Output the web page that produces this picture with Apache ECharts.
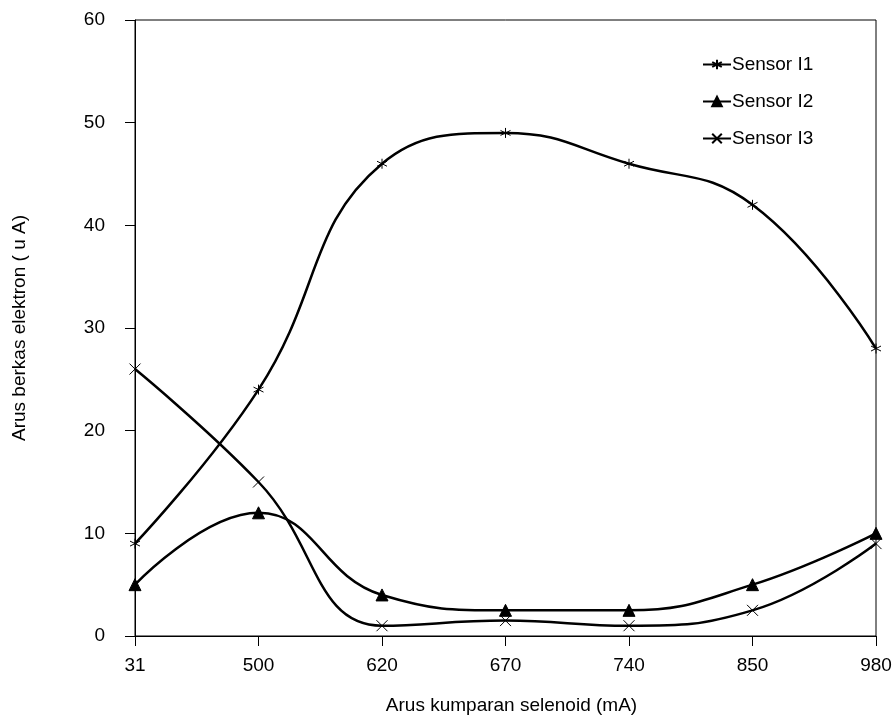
<!DOCTYPE html>
<html>
<head>
<meta charset="utf-8">
<script src="https://cdn.jsdelivr.net/npm/echarts@6/dist/echarts.min.js"></script>
<style>
  html, body { margin: 0; padding: 0; background: #fff; }
  #chart { width: 896px; height: 724px; }
</style>
</head>
<body>
<div id="chart"></div>
<script>
// values
var categories = ['31', '500', '620', '670', '740', '850', '980'];
var sensorI1 = [9, 24, 46, 49, 46, 42, 28];
var sensorI2 = [5, 12, 4, 2.5, 2.5, 5, 10];
var sensorI3 = [26, 15, 1, 1.5, 1, 2.5, 9];

var starPath = 'path://M0,-10L0,10M-8.7,-5L8.7,5M-8.7,5L8.7,-5';
var crossPath = 'path://M-10,-10L10,10M-10,10L10,-10';

var font = 'Liberation Sans, Arial, sans-serif';

var chart = echarts.init(document.getElementById('chart'));

function lineSeries(name, data, symbol, size) {
    return {
        name: name,
        type: 'line',
        data: data,
        smooth: 0.45,
        symbol: symbol,
        symbolSize: size,
        lineStyle: { color: '#000', width: 2.5 },
        itemStyle: { color: '#000', borderColor: '#000', borderWidth: 1 },
        emphasis: { disabled: true },
        animation: false
    };
}

chart.setOption({
    backgroundColor: '#fff',
    textStyle: { fontFamily: font },
    grid: {
        left: 135, right: 20, top: 20, bottom: 88,
        show: true, borderColor: '#000', borderWidth: 1, backgroundColor: 'transparent'
    },
    legend: {
        orient: 'vertical',
        left: 697, top: 50,
        itemGap: 18,
        itemWidth: 28,
        itemHeight: 12,
        textStyle: { fontSize: 19, color: '#000', fontFamily: font, padding: [0, 0, 0, -4] },
        data: ['Sensor I1', 'Sensor I2', 'Sensor I3']
    },
    xAxis: {
        type: 'category',
        data: categories,
        boundaryGap: false,
        name: 'Arus kumparan selenoid (mA)',
        nameLocation: 'middle',
        nameGap: 60,
        nameTextStyle: { fontSize: 19, color: '#000', fontFamily: font, padding: [0, 0, 0, 12] },
        axisLine: { lineStyle: { color: '#000' } },
        axisTick: { inside: false, length: 10, lineStyle: { color: '#000' } },
        axisLabel: { fontSize: 19, color: '#000', margin: 20, fontFamily: font },
        splitLine: { show: false }
    },
    yAxis: {
        type: 'value',
        min: 0, max: 60, interval: 10,
        name: 'Arus berkas elektron ( u A)',
        nameLocation: 'middle',
        nameGap: 106,
        nameTextStyle: { fontSize: 19, color: '#000', fontFamily: font },
        axisLine: { show: true, lineStyle: { color: '#000' } },
        axisTick: { show: true, inside: false, length: 10, lineStyle: { color: '#000' } },
        axisLabel: { fontSize: 19, color: '#000', margin: 30, fontFamily: font },
        splitLine: { show: false }
    },
    series: [
        lineSeries('Sensor I1', sensorI1, starPath, 10),
        lineSeries('Sensor I2', sensorI2, 'triangle', 12),
        lineSeries('Sensor I3', sensorI3, crossPath, 11)
    ]
});
</script>
</body>
</html>
